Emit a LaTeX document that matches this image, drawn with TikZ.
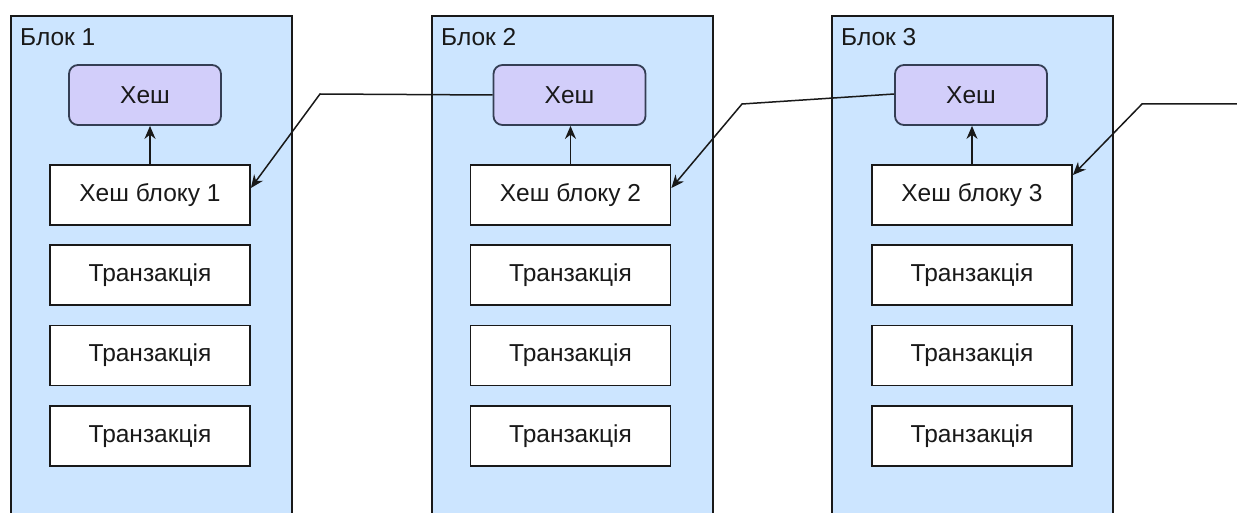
\documentclass[tikz,border=0pt]{standalone}
\usepackage{fontspec}
\setmainfont{Liberation Sans}
\usetikzlibrary{arrows.meta,calc}
\definecolor{blockfill}{RGB}{204,229,255}
\definecolor{hashfill}{RGB}{210,206,250}
\definecolor{hashline}{RGB}{52,62,84}
\definecolor{txt}{RGB}{25,25,25}
\tikzset{
  blockbox/.style={draw=black!90, line width=1.8pt, fill=blockfill, anchor=north west, minimum width=281pt, minimum height=520pt, inner sep=0pt},
  blocklabel/.style={anchor=west, font=\fontsize{24.5}{26}\selectfont, text=txt, inner sep=0pt},
  hashbox/.style={draw=hashline, line width=1.8pt, fill=hashfill, rounded corners=9pt, minimum width=152pt, minimum height=60pt, font=\fontsize{24.5}{26}\selectfont, text=txt, inner sep=0pt},
  whitebox/.style={draw=black!90, line width=1.8pt, fill=white, minimum width=200pt, minimum height=60pt, font=\fontsize{24.5}{26}\selectfont, text=txt, inner sep=0pt},
  link/.style={draw=black!90, line width=1.5pt, -{Stealth[length=13pt,width=11pt]}},
}
\begin{document}
\begin{tikzpicture}[x=1pt,y=-1pt]
\clip (0,0) rectangle (1237,513);
\fill[white] (0,0) rectangle (1237,513);
% blocks
\node[blockbox] (b1) at (10,15) {};
\node[blockbox] (b2) at (431,15) {};
\node[blockbox] (b3) at (831,15) {};
\node[blocklabel] (l1) at (20,37) {Блок 1};
\node[blocklabel] (l2) at (441,37) {Блок 2};
\node[blocklabel] (l3) at (841,37) {Блок 3};
% block 1
\node[hashbox] (h1) at (145,95) {Хеш};
\node[whitebox] (hb1) at (150,195) {Хеш блоку 1};
\node[whitebox] (t11) at (150,275) {Транзакція};
\node[whitebox] (t12) at (150,355.5) {Транзакція};
\node[whitebox] (t13) at (150,436) {Транзакція};
% block 2
\node[hashbox] (h2) at (569.5,95) {Хеш};
\node[whitebox] (hb2) at (570.5,195) {Хеш блоку 2};
\node[whitebox] (t21) at (570.5,275) {Транзакція};
\node[whitebox] (t22) at (570.5,355.5) {Транзакція};
\node[whitebox] (t23) at (570.5,436) {Транзакція};
% block 3
\node[hashbox] (h3) at (971,95) {Хеш};
\node[whitebox] (hb3) at (972,195) {Хеш блоку 3};
\node[whitebox] (t31) at (972,275) {Транзакція};
\node[whitebox] (t32) at (972,355.5) {Транзакція};
\node[whitebox] (t33) at (972,436) {Транзакція};
% inner arrows
\draw[link] (hb1.north) -- (hb1.north |- h1.south);
\draw[link] (hb2.north) -- (hb2.north |- h2.south);
\draw[link] (hb3.north) -- (hb3.north |- h3.south);
% chain links
\coordinate (k1) at (320,94);
\coordinate (k2) at (742,104);
\coordinate (k3) at (1142,104);
\coordinate (e3) at (1240,104);
\draw[link] (h2.west) -- (k1) -- ($(hb1.east)+(0,-7)$);
\draw[link] ($(h3.west)+(0,-1)$) -- (k2) -- ($(hb2.east)+(0,-7)$);
\draw[link] (e3) -- (k3) -- ($(hb3.east)+(0,-20)$);
\end{tikzpicture}
\end{document}
